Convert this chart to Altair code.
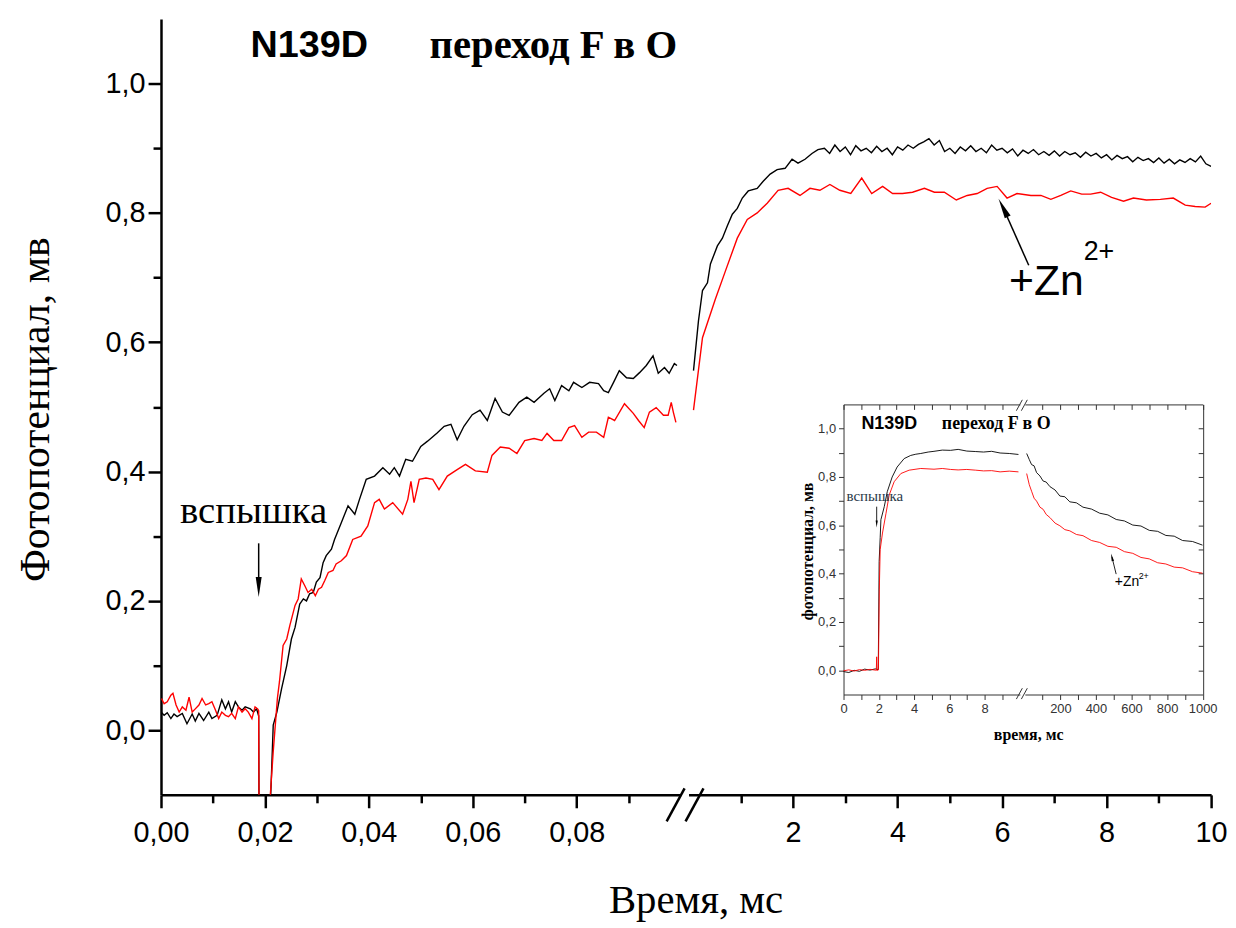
import altair as alt
import pandas as pd

# ---------------- data ----------------
# main panel, left part of the broken axis (time in ms)
ML_BLACK_T = [0.0000, 0.0006, 0.0012, 0.0019, 0.0025, 0.0031, 0.0041, 0.0050, 0.0060, 0.0066, 0.0073, 0.0082,
              0.0092, 0.0098, 0.0108, 0.0117, 0.0124, 0.0130, 0.0136, 0.0143, 0.0149, 0.0156, 0.0162, 0.0172,
              0.0178, 0.0184, 0.0188, 0.0189, 0.0205, 0.0211,
              0.0216, 0.0223, 0.0232, 0.0242, 0.0251, 0.0258, 0.0267, 0.0274, 0.0280, 0.0286, 0.0293, 0.0299,
              0.0306, 0.0312, 0.0318, 0.0328, 0.0334,
              0.0347, 0.0360, 0.0373, 0.0382, 0.0395, 0.0411, 0.0427, 0.0440, 0.0449, 0.0459, 0.0471, 0.0484,
              0.0500, 0.0513, 0.0532, 0.0545, 0.0558, 0.0570, 0.0583, 0.0599,
              0.0614, 0.0628, 0.0643, 0.0657, 0.0670, 0.0689, 0.0704, 0.0718, 0.0737, 0.0748, 0.0758, 0.0771,
              0.0785, 0.0794, 0.0810, 0.0825, 0.0842, 0.0852, 0.0861, 0.0871, 0.0882, 0.0896, 0.0909, 0.0921,
              0.0934, 0.0947, 0.0957, 0.0969, 0.0978, 0.0988, 0.0993]
ML_BLACK_V = [0.028, 0.023, 0.027, 0.018, 0.025, 0.021, 0.026, 0.010, 0.025, 0.014, 0.026, 0.015,
              0.028, 0.018, 0.023, 0.047, 0.033, 0.044, 0.028, 0.044, 0.036, 0.031, 0.036, 0.033,
              0.028, 0.033, 0.022, -0.200, -0.200, -0.105,
              0.008, 0.028, 0.064, 0.100, 0.141, 0.159, 0.195, 0.203, 0.200, 0.211, 0.213, 0.229,
              0.236, 0.259, 0.270, 0.280, 0.295,
              0.321, 0.347, 0.334, 0.357, 0.388, 0.393, 0.406, 0.396, 0.406, 0.393, 0.419, 0.416,
              0.439, 0.447, 0.460, 0.470, 0.473, 0.449, 0.470, 0.488,
              0.495, 0.479, 0.513, 0.492, 0.487, 0.507, 0.515, 0.507, 0.521, 0.528, 0.510, 0.533,
              0.525, 0.538, 0.530, 0.538, 0.536, 0.525, 0.522, 0.538, 0.556, 0.545, 0.544, 0.553,
              0.564, 0.579, 0.552, 0.561, 0.552, 0.567, 0.564]

ML_RED_T = [0.0001, 0.0006, 0.0012, 0.0019, 0.0023, 0.0029, 0.0035, 0.0041, 0.0048, 0.0054, 0.0060, 0.0066,
            0.0073, 0.0079, 0.0086, 0.0092, 0.0098, 0.0105, 0.0111, 0.0117, 0.0124, 0.0130, 0.0136, 0.0143,
            0.0149, 0.0156, 0.0162, 0.0168, 0.0175, 0.0181, 0.0186,
            0.0188, 0.0189, 0.0205, 0.0210,
            0.0216, 0.0224, 0.0228, 0.0235, 0.0242, 0.0248, 0.0258, 0.0264, 0.0270, 0.0277, 0.0283, 0.0290,
            0.0297, 0.0303, 0.0309, 0.0315, 0.0322, 0.0331, 0.0337, 0.0347, 0.0357, 0.0369,
            0.0385, 0.0398, 0.0411, 0.0420, 0.0430, 0.0446, 0.0465, 0.0475, 0.0481, 0.0487, 0.0497, 0.0510,
            0.0523, 0.0535, 0.0551, 0.0570, 0.0586, 0.0605,
            0.0628, 0.0637, 0.0653, 0.0670, 0.0685, 0.0700, 0.0718, 0.0733, 0.0743, 0.0756, 0.0771, 0.0785,
            0.0796, 0.0810, 0.0823, 0.0838, 0.0852, 0.0861, 0.0873, 0.0892, 0.0909, 0.0919, 0.0930, 0.0940,
            0.0953, 0.0967, 0.0976, 0.0982, 0.0986, 0.0991]
ML_RED_V = [0.049, 0.041, 0.044, 0.054, 0.057, 0.039, 0.028, 0.036, 0.031, 0.051, 0.028, 0.033,
            0.039, 0.049, 0.039, 0.041, 0.044, 0.031, 0.018, 0.028, 0.023, 0.021, 0.026, 0.018,
            0.036, 0.028, 0.033, 0.028, 0.018, 0.036, 0.033,
            0.030, -0.200, -0.200, -0.105,
            -0.033, 0.049, 0.075, 0.131, 0.141, 0.162, 0.193, 0.203, 0.234, 0.223, 0.213, 0.218,
            0.208, 0.218, 0.221, 0.231, 0.244, 0.247, 0.257, 0.262, 0.270, 0.295,
            0.300, 0.316, 0.352, 0.357, 0.342, 0.352, 0.334, 0.357, 0.385, 0.352, 0.388, 0.390,
            0.388, 0.372, 0.393, 0.403, 0.411, 0.401,
            0.399, 0.425, 0.438, 0.436, 0.428, 0.448, 0.451, 0.448, 0.459, 0.448, 0.448, 0.468,
            0.471, 0.453, 0.461, 0.461, 0.453, 0.484, 0.479, 0.505, 0.490, 0.479, 0.468, 0.492,
            0.499, 0.487, 0.487, 0.507, 0.492, 0.476]

# main panel, right part of the broken axis
MR_BLACK_T = [0.095, 0.19, 0.267, 0.362, 0.419, 0.552, 0.648, 0.743, 0.838, 0.933, 1.029, 1.143,
              1.314, 1.429, 1.562, 1.695, 1.848, 1.981, 2.095, 2.229, 2.362, 2.476,
              2.6, 2.7, 2.8, 2.9, 3.0, 3.1, 3.2, 3.3, 3.4, 3.5, 3.6, 3.7, 3.8, 3.9, 4.0,
              4.1, 4.2, 4.3, 4.4, 4.5, 4.6, 4.7, 4.8, 4.9, 5.0, 5.1, 5.2, 5.3, 5.4, 5.5,
              5.6, 5.7, 5.8, 5.9, 6.0, 6.1, 6.2, 6.3, 6.4, 6.5, 6.6, 6.7, 6.8, 6.9, 7.0,
              7.1, 7.2, 7.3, 7.4, 7.5, 7.6, 7.7, 7.8, 7.9, 8.0, 8.1, 8.2, 8.3, 8.4, 8.5,
              8.6, 8.7, 8.8, 8.9, 9.0, 9.1, 9.2, 9.3, 9.4, 9.5, 9.6, 9.7, 9.8, 9.9, 10.0]
MR_BLACK_V = [0.556, 0.633, 0.680, 0.692, 0.721, 0.749, 0.761, 0.780, 0.798, 0.807, 0.823, 0.834,
              0.838, 0.849, 0.860, 0.867, 0.869, 0.883, 0.877, 0.883, 0.892, 0.898,
              0.900, 0.892, 0.905, 0.895, 0.902, 0.890, 0.904, 0.896, 0.900, 0.893, 0.903, 0.895, 0.900, 0.890, 0.902,
              0.897, 0.905, 0.900, 0.906, 0.910, 0.915, 0.905, 0.912, 0.895, 0.900, 0.892, 0.902, 0.896, 0.904, 0.895,
              0.900, 0.893, 0.905, 0.897, 0.900, 0.893, 0.899, 0.888, 0.897, 0.892, 0.898, 0.890, 0.895, 0.889, 0.896,
              0.888, 0.895, 0.890, 0.893, 0.886, 0.894, 0.888, 0.892, 0.885, 0.890, 0.882, 0.889, 0.884, 0.887, 0.879,
              0.886, 0.881, 0.884, 0.878, 0.885, 0.877, 0.883, 0.876, 0.882, 0.878, 0.884, 0.879, 0.888, 0.876, 0.872]

MR_RED_T = [0.095, 0.267, 0.514, 0.705, 0.933, 1.124, 1.314, 1.505, 1.714, 1.905,
            2.133, 2.324, 2.514, 2.705, 2.895, 3.105, 3.314, 3.505, 3.714, 3.905,
            4.095, 4.286, 4.514, 4.705, 4.895, 5.124, 5.333, 5.524, 5.714, 5.905,
            6.095, 6.286, 6.552, 6.743, 6.933, 7.124, 7.314, 7.524, 7.695, 7.886,
            8.095, 8.324, 8.514, 8.762, 9.029, 9.276, 9.505, 9.695, 9.886, 10.0]
MR_RED_V = [0.495, 0.607, 0.667, 0.710, 0.761, 0.790, 0.800, 0.815, 0.835, 0.838,
            0.827, 0.838, 0.835, 0.844, 0.835, 0.830, 0.854, 0.830, 0.841, 0.830,
            0.830, 0.832, 0.838, 0.832, 0.832, 0.820, 0.827, 0.830, 0.838, 0.841,
            0.823, 0.830, 0.827, 0.827, 0.821, 0.827, 0.834, 0.829, 0.829, 0.832,
            0.824, 0.818, 0.823, 0.820, 0.821, 0.823, 0.812, 0.810, 0.809, 0.815]

# inset, left part (0-10 ms)
IL_BLACK_T = [0.0, 0.3, 0.6, 0.9, 1.2, 1.5, 1.8, 1.97, 2.02, 2.08, 2.12, 2.31, 2.48, 2.76, 3.04, 3.44, 3.81,
              4.1, 4.38, 4.8, 5.13, 5.6, 6.07, 6.5, 6.99, 7.5, 7.94, 8.4, 8.88, 9.4, 9.92]
IL_BLACK_V = [-0.005, -0.009, 0.0, -0.004, 0.005, 0.001, 0.006, 0.003, 0.45, 0.55, 0.623, 0.677, 0.739, 0.800,
              0.841, 0.876, 0.889, 0.894, 0.897, 0.903, 0.906, 0.911, 0.910, 0.914, 0.907, 0.905, 0.903, 0.906,
              0.899, 0.897, 0.893]
IL_RED_T = [0.0, 0.3, 0.6, 0.9, 1.2, 1.5, 1.8, 1.86, 1.88, 1.90, 1.98, 2.03, 2.08, 2.21, 2.41, 2.59, 2.87,
            3.25, 3.72, 4.38, 5.13, 5.6, 6.07, 6.5, 6.99, 7.5, 7.94, 8.4, 8.88, 9.4, 9.92]
IL_RED_V = [-0.002, 0.002, -0.003, 0.003, 0.0, 0.004, 0.001, 0.0, 0.056, 0.0, 0.002, 0.336, 0.500, 0.568,
            0.650, 0.725, 0.780, 0.814, 0.828, 0.835, 0.832, 0.835, 0.831, 0.829, 0.831, 0.828, 0.825, 0.826,
            0.821, 0.824, 0.821]

# inset, right part (10-1000 ms)
IR_T = [10.3, 25, 38, 52, 66, 85, 103, 120, 141, 170, 197, 225, 253, 290, 327, 375, 421, 467, 514, 560,
        607, 653, 700, 747, 793, 840, 887, 943, 999]
IR_BLACK_V = [0.897, 0.872, 0.851, 0.846, 0.818, 0.804, 0.783, 0.779, 0.760, 0.746, 0.721, 0.718, 0.697,
              0.693, 0.675, 0.667, 0.650, 0.643, 0.624, 0.618, 0.601, 0.597, 0.579, 0.575, 0.558, 0.555,
              0.537, 0.533, 0.518]
IR_RED_V = [0.814, 0.768, 0.741, 0.712, 0.700, 0.675, 0.666, 0.645, 0.632, 0.609, 0.598, 0.582, 0.577,
            0.562, 0.557, 0.537, 0.529, 0.513, 0.509, 0.491, 0.484, 0.467, 0.461, 0.445, 0.440, 0.427,
            0.424, 0.408, 0.402]

SERIES = ["контроль", "+Zn2+"]
SERIES_COLORS = ["#000000", "#ff0000"]

# tick values
MAIN_LEFT_TICKS = [0.0, 0.01, 0.02, 0.03, 0.04, 0.05, 0.06, 0.07, 0.08, 0.09]
MAIN_RIGHT_TICKS = [1, 2, 3, 4, 5, 6, 7, 8, 9, 10]
MAIN_Y_TICKS = [0.0, 0.1, 0.2, 0.3, 0.4, 0.5, 0.6, 0.7, 0.8, 0.9, 1.0]
INSET_LEFT_TICKS = [0, 1, 2, 3, 4, 5, 6, 7, 8, 9]
INSET_RIGHT_TICKS = [100, 200, 300, 400, 500, 600, 700, 800, 900, 1000]
INSET_Y_TICKS = [0.0, 0.1, 0.2, 0.3, 0.4, 0.5, 0.6, 0.7, 0.8, 0.9, 1.0]

SANS = "Liberation Sans"
SERIF = "Liberation Serif"
W, H = 1057, 781

# ---------------- scales ----------------
MAIN_Y = alt.Scale(domain=[-0.1, 1.1], range=[H, 0], nice=False, zero=False)
LEFT_X = alt.Scale(domain=[0, 0.1], range=[0, 523], nice=False, zero=False)
RIGHT_X = alt.Scale(domain=[0, 10], range=[531, 1057], nice=False, zero=False)
IN_Y = alt.Scale(domain=[-0.1, 1.1], range=[680, 388], nice=False, zero=False)
IN_LX = alt.Scale(domain=[0, 10], range=[687, 864.5], nice=False, zero=False)
IN_RX = alt.Scale(domain=[0, 1000], range=[869.5, 1048.5], nice=False, zero=False)
COLOR = alt.Scale(domain=SERIES, range=SERIES_COLORS)


def series_df(bt, bv, rt, rv):
    a = pd.DataFrame({"t": bt, "v": bv, "series": SERIES[0]})
    b = pd.DataFrame({"t": rt, "v": rv, "series": SERIES[1]})
    return pd.concat([a, b], ignore_index=True)


ml_df = series_df(ML_BLACK_T, ML_BLACK_V, ML_RED_T, ML_RED_V)
mr_df = series_df(MR_BLACK_T, MR_BLACK_V, MR_RED_T, MR_RED_V)
il_df = series_df(IL_BLACK_T, IL_BLACK_V, IL_RED_T, IL_RED_V)
ir_df = series_df(IR_T, IR_BLACK_V, IR_T, IR_RED_V)


def main_axis(orient, values, label_expr, major_test, pad):
    return alt.Axis(orient=orient, values=values, labelExpr=label_expr,
                    tickSize={"condition": {"test": major_test, "value": 13}, "value": 8},
                    tickWidth=2.5, domainWidth=2.5, domainColor="black", tickColor="black",
                    labelFont=SANS, labelFontSize=29, labelColor="black", labelPadding=pad,
                    labelFlush=False, labelOverlap=False, grid=False, title=None)


def inset_axis(orient, values, offset, label_expr=None):
    kw = dict(orient=orient, values=values, offset=offset, tickSize=5, tickWidth=1,
              domainWidth=1, domainColor="#333333", tickColor="#333333", grid=False, title=None)
    if label_expr is None:
        kw["labels"] = False
    else:
        kw.update(labelExpr=label_expr, labelFont=SANS, labelFontSize=13, labelColor="#333333",
                  labelPadding=3, labelFlush=False, labelOverlap=False)
    return alt.Axis(**kw)


def lines(df, xs, ys, xaxis, yaxis, width, opacity=1.0):
    return alt.Chart(df).mark_line(strokeWidth=width, clip=True, opacity=opacity).encode(
        x=alt.X("t:Q", scale=xs, axis=xaxis),
        y=alt.Y("v:Q", scale=ys, axis=yaxis),
        color=alt.Color("series:N", scale=COLOR, legend=None),
    )


Y_LABEL = "round(datum.value*10) % 2 == 0 ? replace(format(datum.value, '.1f'), '.', ',') : ''"
Y_MAJOR = "round(datum.value*10) % 2 == 0"

main_left = lines(
    ml_df, LEFT_X, MAIN_Y,
    main_axis("bottom", MAIN_LEFT_TICKS,
              "round(datum.value*100) % 2 == 0 ? replace(format(datum.value, '.2f'), '.', ',') : ''",
              "round(datum.value*100) % 2 == 0", 11),
    main_axis("left", MAIN_Y_TICKS, Y_LABEL, Y_MAJOR, 3), 1.4)
main_right = lines(
    mr_df, RIGHT_X, MAIN_Y,
    main_axis("bottom", MAIN_RIGHT_TICKS, "datum.value % 2 == 0 ? format(datum.value, 'd') : ''",
              "datum.value % 2 == 0", 11),
    None, 1.4)

inset_left = lines(
    il_df, IN_LX, IN_Y,
    inset_axis("bottom", INSET_LEFT_TICKS, -(H - 680), "datum.value % 2 == 0 ? format(datum.value, 'd') : ''"),
    inset_axis("left", INSET_Y_TICKS, -687, Y_LABEL), 0.9)
inset_right = lines(
    ir_df, IN_RX, IN_Y,
    inset_axis("bottom", INSET_RIGHT_TICKS, -(H - 680), "datum.value % 200 == 0 ? format(datum.value, 'd') : ''"),
    None, 0.9)
# top and right borders of the inset (ticks pointing inward)
inset_frame_a = lines(il_df, IN_LX, IN_Y,
                      inset_axis("bottom", INSET_LEFT_TICKS, -(H - 388)),
                      inset_axis("left", INSET_Y_TICKS, -1049), 0.9, opacity=0.0)
inset_frame_b = lines(ir_df, IN_RX, IN_Y,
                      inset_axis("bottom", INSET_RIGHT_TICKS, -(H - 388)),
                      None, 0.9, opacity=0.0)


def segs(rows, xs, ys, width, color):
    df = pd.DataFrame(rows, columns=["x1", "y1", "x2", "y2"])
    return alt.Chart(df).mark_rule(strokeWidth=width, color=color).encode(
        x=alt.X("x1:Q", scale=xs, axis=None), x2="x2:Q",
        y=alt.Y("y1:Q", scale=ys, axis=None), y2="y2:Q")


# axis-break marks "//"
MAIN_BREAKS = [[-0.419, -0.141, -0.076, -0.090], [-0.057, -0.141, 0.286, -0.090]]
INSET_BREAKS = [[-47.6, -0.119, -14.0, -0.074], [-19.6, -0.119, 14.0, -0.074],
                [-47.6, 1.074, -14.0, 1.119], [-19.6, 1.074, 14.0, 1.119]]
main_breaks = segs(MAIN_BREAKS, RIGHT_X, MAIN_Y, 2.5, "black")
inset_breaks = segs(INSET_BREAKS, IN_RX, IN_Y, 1, "#333333")

# arrows
main_flash_line = segs([[0.0188, 0.289, 0.0188, 0.232]], LEFT_X, MAIN_Y, 1.5, "black")
main_zn_line = segs([[6.51, 0.719, 6.02, 0.808]], RIGHT_X, MAIN_Y, 1.5, "black")
inset_flash_line = segs([[1.88, 0.677, 1.88, 0.61]], IN_LX, IN_Y, 1, "#222222")
inset_zn_line = segs([[513.6, 0.398, 490.0, 0.468]], IN_RX, IN_Y, 1, "#222222")

DOWN = "M-0.3,-1L0.3,-1L0,1Z"
UP = "M0,-1L0.32,1L-0.32,1Z"


def head(t, v, xs, ys, shape, size, angle=0):
    df = pd.DataFrame({"t": [t], "v": [v]})
    return alt.Chart(df).mark_point(shape=shape, size=size, angle=angle, filled=True,
                                    color="black", opacity=1).encode(
        x=alt.X("t:Q", scale=xs, axis=None), y=alt.Y("v:Q", scale=ys, axis=None))


heads = [
    head(0.0188, 0.2214, LEFT_X, MAIN_Y, DOWN, 400),
    head(6.02, 0.808, RIGHT_X, MAIN_Y, UP, 420, 333.4),
    head(1.88, 0.605, IN_LX, IN_Y, DOWN, 49),
    head(490.0, 0.468, IN_RX, IN_Y, UP, 60, 346.4),
]


def label(text, t, v, xs, ys, font, size, weight="normal", color="black", align="left", angle=0):
    df = pd.DataFrame({"t": [t], "v": [v], "label": [text]})
    return alt.Chart(df).mark_text(font=font, fontSize=size, fontWeight=weight, color=color,
                                   align=align, baseline="middle", angle=angle).encode(
        x=alt.X("t:Q", scale=xs, axis=None), y=alt.Y("v:Q", scale=ys, axis=None), text="label:N")


texts = [
    label("N139D", 0.01723, 1.058, LEFT_X, MAIN_Y, SANS, 38, "bold"),
    label("переход F в O", 0.05168, 1.058, LEFT_X, MAIN_Y, SERIF, 41, "bold"),
    label("вспышка", 0.00364, 0.3385, LEFT_X, MAIN_Y, SERIF, 39),
    label("Фотопотенциал, мв", -0.0241, 0.4957, LEFT_X, MAIN_Y, SERIF, 42, align="center", angle=270),
    label("Время, мс", 0.10297, -0.2646, LEFT_X, MAIN_Y, SERIF, 41, align="center"),
    label("+Zn", 6.133, 0.6929, RIGHT_X, MAIN_Y, SANS, 43),
    label("2+", 7.562, 0.7391, RIGHT_X, MAIN_Y, SANS, 27),
    label("N139D", 1.014, 1.0205, IN_LX, IN_Y, SANS, 18, "bold"),
    label("переход F в O", 5.577, 1.0205, IN_LX, IN_Y, SERIF, 18, "bold"),
    label("вспышка", 0.169, 0.7213, IN_LX, IN_Y, SERIF, 15, color="#2b3a4a"),
    label("фотопотенциал, мв", -2.028, 0.4918, IN_LX, IN_Y, SERIF, 16, "bold", align="center", angle=270),
    label("время, мс", 10.5, -0.2664, IN_LX, IN_Y, SERIF, 16, "bold", align="center"),
    label("+Zn", 506.0, 0.3648, IN_RX, IN_Y, SANS, 14),
    label("2+", 640.0, 0.3893, IN_RX, IN_Y, SANS, 9),
]

chart = alt.layer(
    main_left, main_right, inset_left, inset_right, inset_frame_a, inset_frame_b,
    main_breaks, inset_breaks, main_flash_line, main_zn_line, inset_flash_line, inset_zn_line,
    *heads, *texts,
).resolve_scale(x="independent", y="independent").properties(
    width=W, height=H,
    autosize=alt.AutoSizeParams(type="none"),
    padding={"left": 154, "top": 8, "right": 17, "bottom": 131},
).configure_view(stroke=None)

chart.save("out.html", embed_options={"renderer": "svg", "actions": False})
